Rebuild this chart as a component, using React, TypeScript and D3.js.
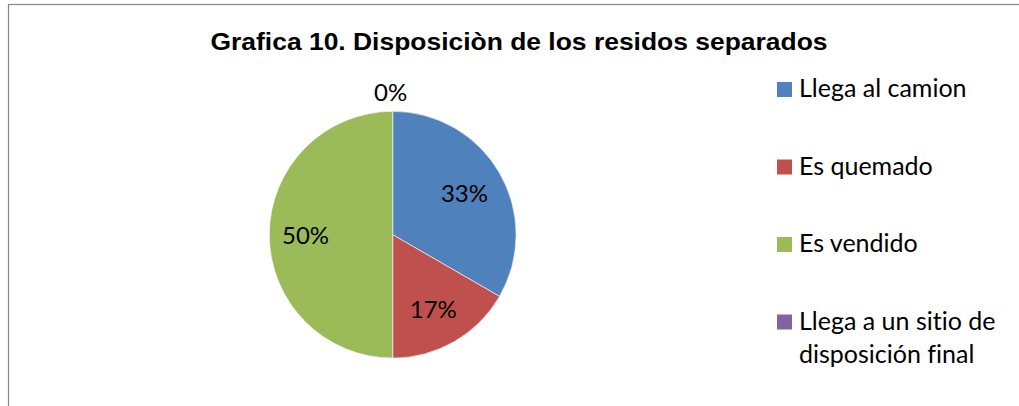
import React, { useRef, useEffect } from 'react';
import * as d3 from 'd3';

const categories = ['Llega al camion', 'Es quemado', 'Es vendido', 'Llega a un sitio de disposición final'];
const values = [2, 1, 3, 0];
const colors = ['#4F81BD', '#C0504D', '#9BBB59', '#8064A2'];
const title = 'Grafica 10. Disposiciòn de los residos separados';

export default function App() {
  const ref = useRef<SVGSVGElement>(null);

  useEffect(() => {
    const svg = d3.select(ref.current);
    svg.selectAll('*').remove();

    // chart frame (cut off on the right and bottom like the original)
    svg.append('rect')
      .attr('x', 8.5).attr('y', 4.5)
      .attr('width', 1100).attr('height', 500)
      .attr('fill', '#fff')
      .attr('stroke', '#868686')
      .attr('stroke-width', 1.2);

    svg.append('text')
      .attr('x', 519).attr('y', 50)
      .attr('text-anchor', 'middle')
      .attr('font-family', '"Liberation Sans", Arial, sans-serif')
      .attr('font-weight', 'bold')
      .attr('font-size', 24.5)
      .attr('textLength', 617)
      .attr('lengthAdjust', 'spacingAndGlyphs')
      .attr('fill', '#000')
      .text(title);

    const cx = 392.7, cy = 234.7, r = 123.4;
    const total = d3.sum(values);
    const pie = d3.pie<number>().sort(null).value(d => d);
    const arcs = pie(values);
    const arc = d3.arc<d3.PieArcDatum<number>>().innerRadius(0).outerRadius(r);

    const g = svg.append('g').attr('transform', `translate(${cx},${cy})`);

    g.selectAll('path')
      .data(arcs)
      .enter()
      .append('path')
      .attr('d', arc)
      .attr('fill', (d, i) => colors[i])
      .attr('stroke', '#fff')
      .attr('stroke-width', d => (d.value > 0 ? 0.6 : 0));

    const labelFont = 'Lato, "Open Sans", sans-serif';
    const labelR = d3.scaleLinear().domain([0, 1]).range([0, r]);

    g.selectAll('text.lbl')
      .data(arcs)
      .enter()
      .append('text')
      .attr('class', 'lbl')
      .attr('transform', d => {
        const a = (d.startAngle + d.endAngle) / 2;
        const rr = d.value > 0 ? labelR(0.69) : r + 20;
        return `translate(${Math.sin(a) * rr - 2},${-Math.cos(a) * rr + 1})`;
      })
      .attr('text-anchor', 'middle')
      .attr('dy', '0.36em')
      .attr('font-family', labelFont)
      .attr('font-size', 24)
      .attr('fill', '#000')
      .text(d => `${Math.round((d.value / total) * 100)}%`);

    const legend = svg.append('g').attr('transform', 'translate(777,82)');
    const step = 77.5;
    const item = legend.selectAll('g')
      .data(categories)
      .enter()
      .append('g')
      .attr('transform', (d, i) => `translate(0,${i * step})`);

    item.append('rect')
      .attr('width', 15).attr('height', 15)
      .attr('fill', (d, i) => colors[i]);

    const wrap = (s: string) => (s.length > 20 ? ['Llega a un sitio de', 'disposición final'] : [s]);

    item.append('text')
      .attr('x', 22)
      .attr('y', 15)
      .attr('font-family', labelFont)
      .attr('font-size', 25)
      .style('font-variant-ligatures', 'none')
      .attr('fill', '#000')
      .selectAll('tspan')
      .data(d => wrap(d))
      .enter()
      .append('tspan')
      .attr('x', 22)
      .attr('dy', (d, i) => (i === 0 ? 0 : 33))
      .text(d => d);
  }, []);

  return (
    <svg
      ref={ref}
      width={1019}
      height={406}
      style={{ position: 'absolute', left: 0, top: 0, background: '#fff' }}
    />
  );
}
